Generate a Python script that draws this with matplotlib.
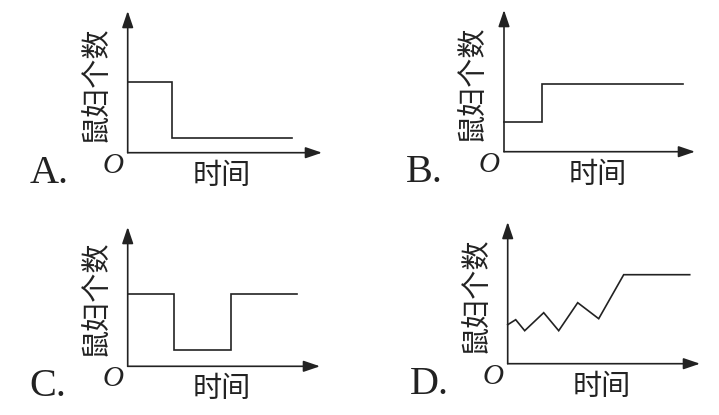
import matplotlib.pyplot as plt

plt.rcParams['font.family'] = ['Noto Sans CJK SC', 'DejaVu Sans']

# data (arbitrary units, origin of each panel = 0,0)
a_t = [0, 44, 44, 164]
a_n = [71, 71, 15, 15]

b_t = [0, 38, 38, 179]
b_n = [30, 30, 68, 68]

c_t = [0, 46, 46, 103, 103, 169]
c_n = [72, 72, 16, 16, 72, 72]

d_t = [0, 8, 17, 36, 51, 70, 91, 116, 182]
d_n = [39, 44, 33, 51, 33, 61, 45, 89, 89]

letters = ['A.', 'B.', 'C.', 'D.']
series = [(a_t, a_n), (b_t, b_n), (c_t, c_n), (d_t, d_n)]
ylabel = '鼠妇个数'
xlabel = '时间'

# panel geometry in pixels: origin x, origin y (from top), x-arrow tip, y-arrow tip
geom = [(127.7, 152.7, 322, 11),
        (504, 151.7, 695, 10),
        (127.7, 366.3, 320, 227),
        (507.7, 363.7, 700, 222)]

W, H = 719, 415
col = '#222222'
lw = 1.2

fig = plt.figure(figsize=(W / 100, H / 100), dpi=100)

for (t, n), lab, (ox, oy, tx, ty) in zip(series, letters, geom):
    w = tx - ox
    h = oy - ty
    ax = fig.add_axes([ox / W, (H - oy) / H, w / W, h / H])
    ax.set_xlim(0, w)
    ax.set_ylim(0, h)
    ax.axis('off')

    # axes with arrows
    ap = dict(arrowstyle='-|>,head_length=0.5,head_width=0.17', color=col,
              lw=lw, shrinkA=0, shrinkB=0, mutation_scale=20)
    ax.annotate('', xy=(w, 0), xytext=(0, 0), arrowprops=ap, annotation_clip=False)
    ax.annotate('', xy=(0, h), xytext=(0, 0), arrowprops=ap, annotation_clip=False)

    ax.plot(t, n, color=col, lw=lw, clip_on=False, solid_joinstyle='miter')

    ax.text(-15, -20, 'O', family='Liberation Serif', style='italic', fontsize=21,
            ha='center', va='baseline', color=col)
    ax.text(94, -23, xlabel, fontsize=21, ha='center', va='center', color=col)
    ax.text(-32, 69, ylabel, fontsize=21, rotation=90, ha='center', va='center', color=col)
    ax.text(-98, -30, lab, family='Liberation Serif', fontsize=29,
            ha='left', va='baseline', color=col)

fig.savefig('out.png', dpi=100)
